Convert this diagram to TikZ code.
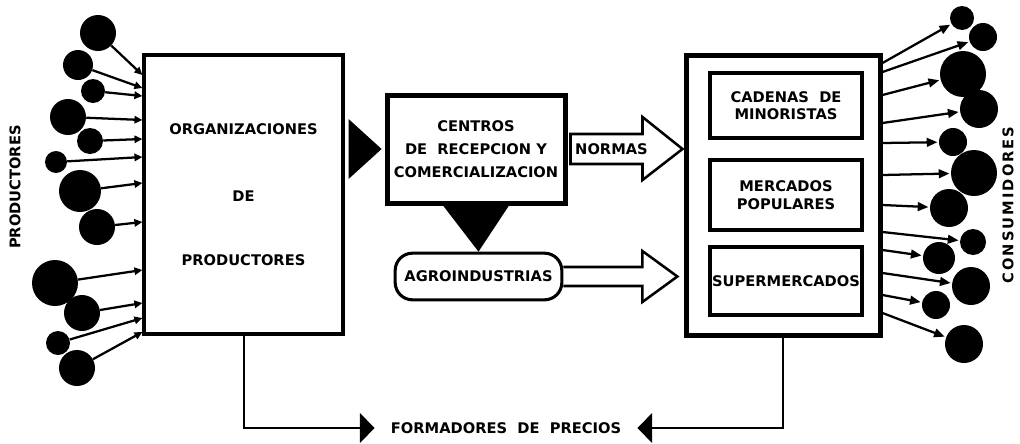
\documentclass[tikz,border=0pt]{standalone}
\usepackage{fontspec}
\newfontfamily\blk{DejaVu Sans}
\usetikzlibrary{arrows.meta,calc}

\tikzset{
  box/.style={draw=black, line width=2.6pt, align=center, font=\blk\bfseries\fontsize{11}{13}\selectfont},
  caption/.style={font=\blk\bfseries\fontsize{11}{13}\selectfont},
  dot/.style={circle, fill=black, inner sep=0pt},
  feedin/.style={line width=1.7pt, -{Triangle[length=6pt,width=5.5pt]}},
  feedout/.style={line width=1.7pt, -{Triangle[length=8pt,width=6.5pt]}},
  hollow/.style={draw=black, line width=1.9pt, line join=miter},
  link/.style={line width=1.5pt, -{Triangle[length=11pt,width=22pt]}},
}

\begin{document}
\begin{tikzpicture}[x=0.75pt,y=-0.75pt]
\useasboundingbox (0,0) rectangle (1020,443);

% blocks
\node[box, minimum width=149pt, minimum height=209pt] (org) at (243.5,194.5) {ORGANIZACIONES\\[37pt]DE\\[35pt]PRODUCTORES};
\node[box, line width=3.75pt, minimum width=133.5pt, minimum height=81pt, inner sep=1pt] (cen) at (476,149) {CENTROS\\[4pt]DE\ \ RECEPCION\ Y\\[4pt]COMERCIALIZACION};
\node[box, line width=2.3pt, rounded corners=13pt, minimum width=125pt, minimum height=35pt, inner sep=1pt] (agro) at (478.5,276.5) {AGROINDUSTRIAS};

\node[box, line width=3.75pt, minimum width=145.5pt, minimum height=210pt] (mkt) at (783,195) {};
\node[box, minimum width=114pt, minimum height=48.75pt] (cad) at (786,105.5) {CADENAS\ \ DE\\MINORISTAS};
\node[box, minimum width=114pt, minimum height=52.5pt] (merc) at (786,195) {MERCADOS\\[1pt]POPULARES};
\node[box, minimum width=114pt, minimum height=51pt, inner xsep=0pt] (sup) at (786,281) {SUPERMERCADOS};

% solid triangles
\fill ($(org.east |- cen.west)+(4,-30)$) -- ++(33,30) -- ++(-33,30) -- cycle;
\fill ($(cen.south)+(-33,0)$) -- ($(cen.south)+(33,0)$) -- (agro.north) -- cycle;

% open arrows
\draw[hollow] ($(cen.east)+(3,-15)$) -- ++(72,0) -- ++(0,-17) -- ++(40,32) -- ++(-40,31) -- ++(0,-16) -- ++(-72,0) -- cycle;
\node[caption] (nor) at ($(cen.east)+(44,0)$) {NORMAS};
\draw[hollow] ($(agro.east)+(0,-9.5)$) -- ++(79,0) -- ++(0,-16) -- ++(35,25.5) -- ++(-35,25.5) -- ++(0,-16) -- ++(-79,0);

% producers
\foreach \i/\cx/\cy/\r/\ey in {1/98/33/18/75, 2/78/65/15/88, 3/93/91/12/96, 4/68/117/18/120,
    5/90/141/13/139, 6/56/162/11/157, 7/80/191/21/183, 8/97/227/18/222,
    9/55/283/23/270, 10/82/313/18/303, 11/58/343/12/318, 12/77/368/18/332}{
  \node[dot, minimum size=\r*1.5pt] (p\i) at (\cx,\cy) {};
  \coordinate (pe\i) at (org.west |- 0,\ey);
  \draw[feedin] (p\i) -- (pe\i);
}

% consumers
\foreach \i/\cx/\cy/\r/\sy in {1/962/18/12/63, 2/983/37/14/72, 3/963/74/23/95, 4/979/109/19/123,
    5/953/142/14/143, 6/974/173/23/175, 7/949/208/19/205, 8/973/242/13/232,
    9/939/258/16/250, 10/971/286/19/273, 11/936/305/14/295, 12/964/344/19/313}{
  \node[dot, minimum size=\r*1.5pt] (c\i) at (\cx,\cy) {};
  \coordinate (ce\i) at (mkt.east |- 0,\sy);
  \draw[feedout, shorten >=1pt] (ce\i) -- (c\i);
}

\node[caption, rotate=90] (prod) at (15,187) {PRODUCTORES};
\node[caption, rotate=90] (cons) at (1008,205) {\addfontfeatures{LetterSpace=14}CONSUMIDORES};

% prices
\node[caption, inner xsep=12pt] (prc) at (506,428) {FORMADORES\ \ DE\ \ PRECIOS};
\draw[link] (org.south) |- (prc.west);
\draw[link] (mkt.south) |- (prc.east);
\end{tikzpicture}
\end{document}
